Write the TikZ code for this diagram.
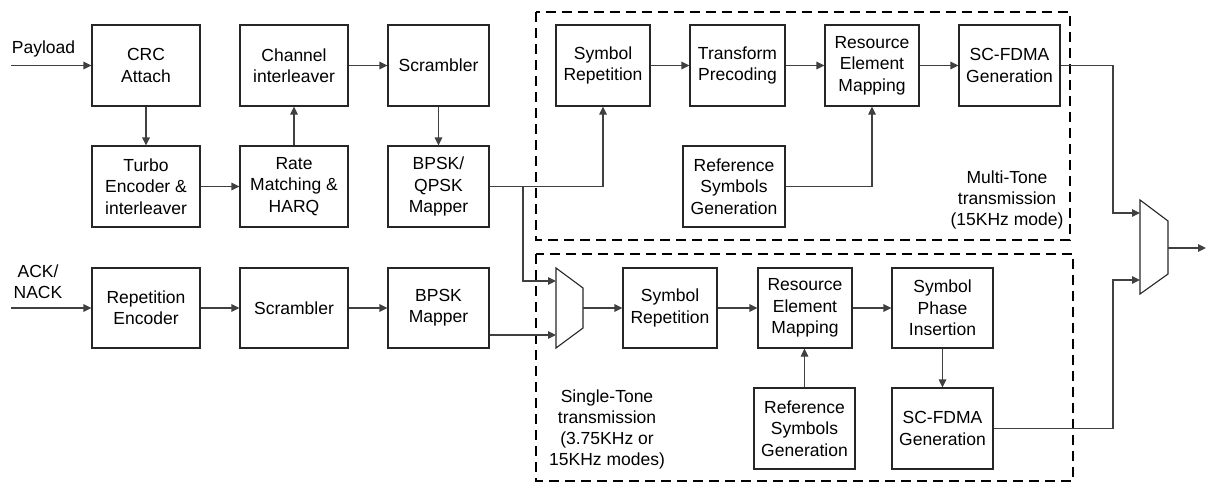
\documentclass[tikz,border=0pt]{standalone}
\usepackage{fontspec}
\setmainfont{Liberation Sans}
\usetikzlibrary{arrows.meta,calc}
\tikzset{
  blk/.style={draw=black!85, line width=1.1pt, align=center, inner sep=0pt,
    font=\fontsize{17.5}{21.3}\selectfont},
  lbl/.style={align=center, inner sep=0pt, font=\fontsize{17.5}{21.3}\selectfont},
  con/.style={draw=black!75, line width=1.1pt},
  arr/.style={con, -{Triangle[length=8pt,width=7.5pt]}},
  grp/.style={draw=black, line width=1.9pt, dash pattern=on 10pt off 6pt},
  muxs/.style={draw=black!85, line width=1.1pt, line join=miter}
}
\begin{document}
\begin{tikzpicture}[x=1pt,y=-1pt]
\useasboundingbox (0,0) rectangle (1206,482);
% group boxes
\draw[grp] (536,12) rectangle (1070,240);
\draw[grp] (536,254) rectangle (1073,481);
% upper chain
\node[blk, minimum width=108pt, minimum height=81pt] (crc) at (146,65.5) {CRC\\Attach};
\node[blk, minimum width=108pt, minimum height=81pt] (chan) at (294,65.5) {Channel\\interleaver};
\node[blk, minimum width=101pt, minimum height=81pt] (scr1) at (438.5,65.5) {Scrambler};
\node[blk, minimum width=108pt, minimum height=81pt] (turbo) at (146,186.5) {Turbo\\Encoder \&\\interleaver};
\node[blk, minimum width=108pt, minimum height=81pt] (rate) at (294,186.5) {Rate\\Matching \&\\HARQ};
\node[blk, minimum width=101pt, minimum height=81pt] (map1) at (438.5,186.5) {BPSK/\\QPSK\\Mapper};
% multi-tone
\node[blk, minimum width=94pt, minimum height=81pt] (symrep1) at (603,65.5) {Symbol\\Repetition};
\node[blk, minimum width=95pt, minimum height=81pt] (tp) at (737.5,65.5) {Transform\\Precoding};
\node[blk, minimum width=94pt, minimum height=81pt] (rem1) at (872,65.5) {Resource\\Element\\Mapping};
\node[blk, minimum width=101pt, minimum height=81pt] (scf1) at (1009.5,65.5) {SC-FDMA\\Generation};
\node[blk, minimum width=102pt, minimum height=81pt] (ref1) at (734,186.5) {Reference\\Symbols\\Generation};
\node[lbl] (mtl) at (1007,200) {Multi-Tone\\transmission\\(15KHz mode)};
% lower chain
\node[blk, minimum width=108pt, minimum height=80pt] (rep) at (146,308) {Repetition\\Encoder};
\node[blk, minimum width=108pt, minimum height=80pt] (scr2) at (294,308) {Scrambler};
\node[blk, minimum width=101pt, minimum height=80pt] (map2) at (438.5,308) {BPSK\\Mapper};
% single-tone
\node[blk, minimum width=94pt, minimum height=80pt] (symrep2) at (670,308) {Symbol\\Repetition};
\node[blk, minimum width=94pt, minimum height=80pt] (rem2) at (805,308) {Resource\\Element\\Mapping};
\node[blk, minimum width=101pt, minimum height=80pt] (spi) at (942.5,308) {Symbol\\Phase\\Insertion};
\node[blk, minimum width=101pt, minimum height=81pt] (ref2) at (804.5,428.5) {Reference\\Symbols\\Generation};
\node[blk, minimum width=101pt, minimum height=81pt] (scf2) at (942.5,428.5) {SC-FDMA\\Generation};
\node[lbl] (stl) at (607,429.5) {Single-Tone\\transmission\\(3.75KHz or\\15KHz modes)};
% inputs
\node[lbl] (pay) at (43.5,49) {Payload};
\node[lbl] (ack) at (38,282) {ACK/\\NACK};
\coordinate (payin) at (11,65.5);
\coordinate (ackin) at (11,308);
% muxes
\draw[muxs] (556,268) -- (583,288) -- (583,328) -- (556,348) -- cycle;
\coordinate (m1a) at (556,281);
\coordinate (m1b) at (556,335);
\coordinate (m1o) at (583,308);
\draw[muxs] (1140,200) -- (1168,221) -- (1168,274) -- (1140,294) -- cycle;
\coordinate (m2a) at (1140,213);
\coordinate (m2b) at (1140,280);
\coordinate (m2o) at (1168,248);
\coordinate (outp) at (1206,248);
\coordinate (br) at (523,186.5);
\coordinate (vx) at (1113,0);
% connectors
\draw[arr] (payin) -- (crc.west);
\draw[arr] (crc.south) -- (turbo.north);
\draw[arr] (turbo.east) -- (rate.west);
\draw[arr] (rate.north) -- (chan.south);
\draw[arr] (chan.east) -- (scr1.west);
\draw[arr] (scr1.south) -- (map1.north);
\draw[arr] (map1.east) -| (symrep1.south);
\draw[arr] (br) |- (m1a);
\draw[arr] (symrep1.east) -- (tp.west);
\draw[arr] (tp.east) -- (rem1.west);
\draw[arr] (rem1.east) -- (scf1.west);
\draw[arr] (ref1.east) -| (rem1.south);
\draw[arr] (scf1.east) -- (scf1.east -| vx) |- (m2a);
\draw[arr] (ackin) -- (rep.west);
\draw[arr] (rep.east) -- (scr2.west);
\draw[arr] (scr2.east) -- (map2.west);
\draw[arr] (map2.east |- m1b) -- (m1b);
\draw[arr] (m1o) -- (symrep2.west);
\draw[arr] (symrep2.east) -- (rem2.west);
\draw[arr] (rem2.east) -- (spi.west);
\draw[arr] (ref2.north) -- (ref2.north |- rem2.south);
\draw[arr] (spi.south) -- (scf2.north);
\draw[arr] (scf2.east) -- (scf2.east -| vx) |- (m2b);
\draw[arr] (m2o) -- (outp);
\end{tikzpicture}
\end{document}
